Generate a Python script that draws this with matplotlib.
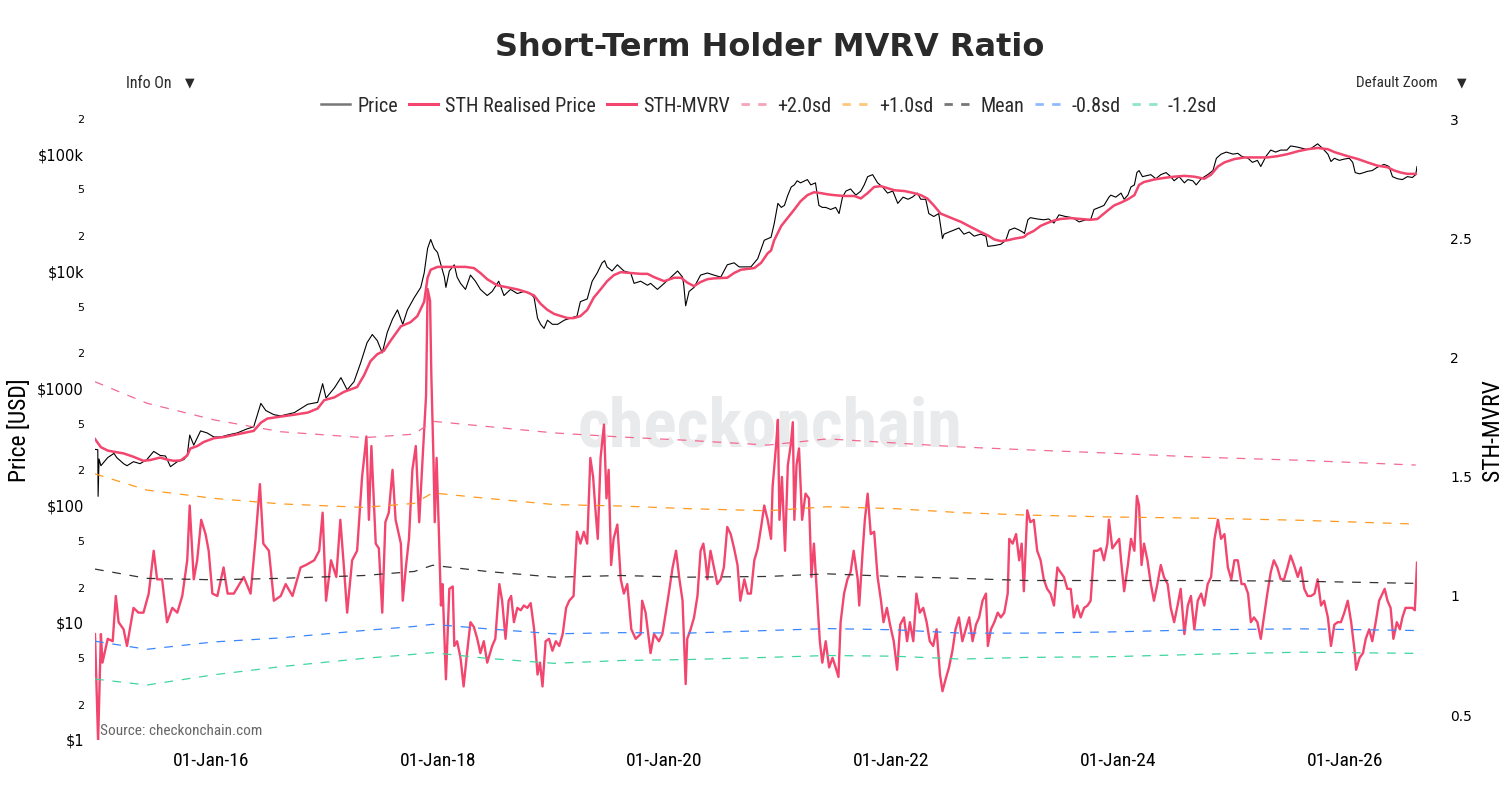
import matplotlib
matplotlib.use("Agg")
import matplotlib.pyplot as plt
import matplotlib.dates as mdates
from matplotlib.lines import Line2D
from matplotlib import font_manager
import pandas as pd

# ---------------------------------------------------------
# Data
# ---------------------------------------------------------
price_dates = [
    "2014-12-24", "2015-01-02", "2015-01-03", "2015-01-06", "2015-01-12", "2015-02-03", "2015-02-23",
    "2015-03-04", "2015-03-26", "2015-04-06", "2015-04-27", "2015-05-18", "2015-06-09", "2015-07-01",
    "2015-07-22", "2015-08-08", "2015-08-24", "2015-09-15", "2015-10-06", "2015-10-17", "2015-10-25",
    "2015-11-07", "2015-11-29", "2015-12-20", "2016-01-11", "2016-02-02", "2016-02-24", "2016-03-26",
    "2016-04-27", "2016-05-18", "2016-06-10", "2016-06-26", "2016-07-22", "2016-08-13", "2016-09-26",
    "2016-11-08", "2016-12-10", "2016-12-26", "2017-01-06", "2017-02-02", "2017-02-23", "2017-03-15",
    "2017-04-06", "2017-04-27", "2017-05-18", "2017-06-04", "2017-06-20", "2017-07-06", "2017-07-22",
    "2017-08-08", "2017-08-24", "2017-09-10", "2017-09-25", "2017-10-17", "2017-11-07", "2017-11-18",
    "2017-11-29", "2017-12-09", "2017-12-20", "2017-12-31", "2018-01-11", "2018-01-22", "2018-01-27",
    "2018-02-07", "2018-02-23", "2018-03-04", "2018-03-15", "2018-03-31", "2018-04-16", "2018-05-02",
    "2018-05-18", "2018-06-09", "2018-06-25", "2018-07-16", "2018-08-02", "2018-08-23", "2018-09-14",
    "2018-10-05", "2018-10-27", "2018-11-07", "2018-11-18", "2018-11-28", "2018-12-09", "2018-12-20",
    "2019-01-05", "2019-01-22", "2019-02-12", "2019-03-04", "2019-03-25", "2019-04-05", "2019-04-27",
    "2019-05-13", "2019-05-29", "2019-06-14", "2019-06-22", "2019-06-30", "2019-07-16", "2019-08-02",
    "2019-08-23", "2019-09-14", "2019-09-25", "2019-10-16", "2019-11-07", "2019-11-17", "2019-12-09",
    "2019-12-31", "2020-01-22", "2020-02-12", "2020-02-28", "2020-03-03", "2020-03-09", "2020-03-20",
    "2020-04-05", "2020-04-26", "2020-05-18", "2020-06-08", "2020-06-30", "2020-07-21", "2020-08-12",
    "2020-08-28", "2020-10-05", "2020-10-27", "2020-11-17", "2020-12-09", "2020-12-19", "2020-12-31",
    "2021-01-11", "2021-01-21", "2021-02-01", "2021-02-12", "2021-02-22", "2021-03-03", "2021-03-14",
    "2021-04-05", "2021-04-16", "2021-05-01", "2021-05-12", "2021-05-23", "2021-06-03", "2021-06-19",
    "2021-07-05", "2021-07-16", "2021-07-27", "2021-08-07", "2021-08-22", "2021-09-08", "2021-09-24",
    "2021-10-05", "2021-10-16", "2021-11-01", "2021-11-17", "2021-12-03", "2021-12-19", "2022-01-05",
    "2022-01-21", "2022-02-07", "2022-02-23", "2022-03-09", "2022-03-25", "2022-04-05", "2022-04-21",
    "2022-05-01", "2022-05-17", "2022-06-02", "2022-06-14", "2022-06-19", "2022-07-05", "2022-07-21",
    "2022-08-06", "2022-08-22", "2022-09-08", "2022-09-24", "2022-10-15", "2022-11-01", "2022-11-07",
    "2022-11-28", "2022-12-19", "2023-01-04", "2023-01-15", "2023-02-01", "2023-02-16", "2023-02-27",
    "2023-03-05", "2023-03-16", "2023-03-24", "2023-04-15", "2023-05-06", "2023-05-22", "2023-06-08",
    "2023-06-24", "2023-07-15", "2023-08-07", "2023-08-28", "2023-09-19", "2023-10-04", "2023-10-15",
    "2023-11-01", "2023-11-16", "2023-12-02", "2023-12-08", "2023-12-24", "2024-01-10", "2024-01-20",
    "2024-02-01", "2024-02-11", "2024-02-22", "2024-03-01", "2024-03-08", "2024-03-19", "2024-04-04",
    "2024-04-15", "2024-05-01", "2024-05-17", "2024-06-03", "2024-06-18", "2024-06-29", "2024-07-15",
    "2024-08-01", "2024-08-12", "2024-08-28", "2024-09-08", "2024-09-24", "2024-10-15", "2024-11-01",
    "2024-11-12", "2024-11-27", "2024-12-14", "2025-01-05", "2025-01-20", "2025-02-01", "2025-02-22",
    "2025-03-08", "2025-03-24", "2025-04-04", "2025-04-21", "2025-05-06", "2025-05-22", "2025-06-07",
    "2025-06-27", "2025-07-09", "2025-07-26", "2025-08-11", "2025-08-27", "2025-09-13", "2025-10-04",
    "2025-10-20", "2025-11-06", "2025-11-16", "2025-11-27", "2025-12-13", "2025-12-29", "2026-01-14",
    "2026-01-25", "2026-02-02", "2026-02-16", "2026-03-02", "2026-03-13", "2026-03-29", "2026-04-14",
    "2026-05-06", "2026-05-22", "2026-06-02", "2026-06-18", "2026-07-04", "2026-07-20", "2026-08-05",
    "2026-08-16", "2026-08-20",
]
price_values = [
    302, 300, 120, 250, 219, 257, 279,
    257, 228, 219, 237, 228, 247, 290,
    268, 265, 215, 237, 247, 268, 400,
    328, 434, 417, 385, 385, 400, 417,
    452, 470, 745, 648, 597, 583, 622,
    733, 760, 1097, 829, 1011, 1236, 973,
    1141, 1640, 2455, 2884, 2557, 2010, 3000,
    3900, 4677, 3524, 4677, 5955, 7280, 9660,
    15660, 18670, 15660, 14450, 11350, 8910, 7280,
    10050, 11350, 8910, 7880, 7000, 9270, 8220,
    7000, 6200, 6720, 8220, 6200, 7000, 6450,
    6720, 6450, 5955, 3980, 3524, 3250, 3820,
    3524, 3524, 3820, 3980, 4140, 5500, 5800,
    8220, 9660, 11800, 12300, 10890, 10050, 11350,
    10050, 9660, 7880, 8220, 7590, 7880, 7000,
    7880, 8910, 10050, 8910, 7590, 5070, 6720,
    7280, 9270, 9660, 9270, 8910, 11350, 11800,
    10890, 10890, 12790, 18370, 19500, 25370, 37930,
    35050, 36450, 44600, 52390, 54550, 59130, 56770,
    60550, 54550, 56770, 36450, 35050, 35050, 33650,
    35050, 31050, 42850, 48300, 50310, 44600, 48300,
    54550, 64120, 66700, 56770, 52390, 46430, 48300,
    37930, 42850, 41130, 42850, 46430, 41130, 41130,
    31050, 29310, 31050, 19000, 20720, 21600, 22440,
    23380, 20720, 21600, 19910, 20720, 19910, 16300,
    16560, 16980, 18370, 22440, 23380, 22440, 21600,
    21000, 27480, 28640, 27930, 27480, 27930, 25780,
    30280, 29310, 28640, 26360, 27480, 27480, 33650,
    35050, 36450, 42850, 44600, 42850, 46430, 41130,
    44600, 52390, 54550, 69470, 72300, 64120, 65550,
    66700, 61540, 66700, 69470, 64120, 59130, 64120,
    56770, 60550, 59130, 54550, 61540, 66700, 72300,
    92000, 99800, 103900, 99800, 101400, 95800, 92000,
    84900, 88300, 78300, 95800, 108100, 103900, 108100,
    108100, 117200, 115300, 112700, 109900, 111700, 122200,
    111700, 99800, 86300, 92000, 88300, 90600, 92000,
    84900, 69470, 67750, 69470, 71100, 72300, 77100,
    81600, 78300, 64120, 61540, 60550, 64120, 63100,
    66700, 78300,
]

realised_dates = [
    "2014-12-24", "2015-01-12", "2015-02-03", "2015-02-23", "2015-03-26", "2015-04-27", "2015-05-29",
    "2015-06-20", "2015-07-22", "2015-08-13", "2015-09-04", "2015-09-26", "2015-10-17", "2015-10-27",
    "2015-11-18", "2015-12-09", "2016-01-11", "2016-02-13", "2016-03-15", "2016-04-16", "2016-05-18",
    "2016-06-10", "2016-07-01", "2016-08-13", "2016-09-26", "2016-11-08", "2016-12-10", "2016-12-31",
    "2017-02-02", "2017-03-04", "2017-04-16", "2017-05-08", "2017-05-29", "2017-06-20", "2017-07-11",
    "2017-08-02", "2017-09-04", "2017-10-05", "2017-10-27", "2017-11-18", "2017-11-29", "2017-12-09",
    "2017-12-31", "2018-01-22", "2018-02-23", "2018-03-31", "2018-04-27", "2018-05-18", "2018-06-09",
    "2018-07-11", "2018-08-13", "2018-09-14", "2018-10-16", "2018-11-07", "2018-11-28", "2018-12-20",
    "2019-01-11", "2019-02-02", "2019-02-23", "2019-03-14", "2019-04-05", "2019-04-27", "2019-05-18",
    "2019-06-09", "2019-06-30", "2019-07-22", "2019-08-13", "2019-09-14", "2019-10-16", "2019-11-07",
    "2019-11-28", "2019-12-31", "2020-02-01", "2020-02-23", "2020-03-14", "2020-04-05", "2020-04-26",
    "2020-05-18", "2020-06-08", "2020-07-21", "2020-08-12", "2020-09-03", "2020-10-16", "2020-11-07",
    "2020-11-28", "2020-12-09", "2020-12-19", "2021-01-11", "2021-02-01", "2021-02-22", "2021-03-14",
    "2021-04-05", "2021-04-26", "2021-05-18", "2021-06-09", "2021-06-30", "2021-08-01", "2021-09-03",
    "2021-09-24", "2021-10-16", "2021-11-06", "2021-11-28", "2021-12-19", "2022-01-10", "2022-02-12",
    "2022-03-14", "2022-04-05", "2022-04-26", "2022-05-17", "2022-06-08", "2022-07-10", "2022-08-12",
    "2022-09-14", "2022-10-15", "2022-11-07", "2022-11-28", "2022-12-19", "2023-01-10", "2023-02-01",
    "2023-03-03", "2023-03-14", "2023-04-04", "2023-04-26", "2023-05-17", "2023-06-08", "2023-06-29",
    "2023-08-01", "2023-09-02", "2023-10-04", "2023-10-26", "2023-11-16", "2023-12-02", "2023-12-19",
    "2024-01-10", "2024-02-01", "2024-02-22", "2024-03-08", "2024-03-24", "2024-04-25", "2024-05-27",
    "2024-06-29", "2024-08-01", "2024-09-02", "2024-10-04", "2024-10-26", "2024-11-17", "2024-12-08",
    "2025-01-09", "2025-02-11", "2025-03-24", "2025-04-25", "2025-05-27", "2025-06-29", "2025-08-01",
    "2025-09-02", "2025-10-04", "2025-11-06", "2025-11-27", "2026-01-09", "2026-02-11", "2026-03-13",
    "2026-04-14", "2026-05-17", "2026-06-08", "2026-06-29", "2026-07-20", "2026-08-20",
]
realised_values = [
    370, 315, 295, 288, 279, 261, 241,
    245, 257, 247, 241, 243, 268, 307,
    322, 349, 376, 385, 400, 417, 434,
    510, 553, 575, 597, 622, 674, 794,
    839, 933, 1028, 1288, 1707, 1959, 2089,
    2557, 3388, 3673, 4140, 5500, 8800, 10300,
    10890, 10890, 10890, 10890, 10640, 9660, 8550,
    7590, 7280, 7000, 6600, 6200, 5270, 4677,
    4316, 4140, 3980, 3980, 4140, 4677, 5955,
    7000, 8220, 9270, 9820, 9660, 9500, 9500,
    8910, 8220, 8800, 8800, 8000, 7460, 8090,
    8550, 8690, 8800, 9660, 10300, 10640, 11800,
    14220, 15040, 18370, 24380, 28640, 33650, 39550,
    44600, 47200, 46430, 45300, 44600, 43850, 43850,
    41780, 46430, 52390, 53200, 51150, 49100, 48300,
    46430, 44600, 41780, 36450, 31050, 28640, 26420,
    23780, 21600, 20230, 18660, 18070, 18370, 18970,
    19580, 20720, 22080, 24380, 25780, 27060, 27930,
    28380, 27930, 27480, 27930, 31050, 33650, 36450,
    38540, 41130, 44600, 54550, 57750, 60550, 62520,
    64120, 65100, 64120, 61540, 66700, 78300, 84900,
    90600, 93560, 93560, 93560, 95800, 99800, 105600,
    109900, 112700, 109900, 103900, 95800, 90600, 84900,
    79650, 77100, 72300, 69470, 67750, 67750,
]

mvrv_dates = [
    "2014-12-24", "2015-01-03", "2015-01-12", "2015-01-17", "2015-02-03", "2015-02-19", "2015-03-01",
    "2015-03-10", "2015-03-26", "2015-04-06", "2015-04-27", "2015-05-13", "2015-05-29", "2015-06-15",
    "2015-07-01", "2015-07-12", "2015-07-28", "2015-08-13", "2015-08-30", "2015-09-15", "2015-10-01",
    "2015-10-17", "2015-10-25", "2015-11-07", "2015-11-18", "2015-12-01", "2015-12-15", "2015-12-25",
    "2016-01-06", "2016-01-22", "2016-02-11", "2016-02-24", "2016-03-15", "2016-04-16", "2016-05-08",
    "2016-05-24", "2016-06-07", "2016-06-18", "2016-07-06", "2016-07-22", "2016-08-13", "2016-08-29",
    "2016-09-20", "2016-10-16", "2016-11-02", "2016-11-29", "2016-12-15", "2016-12-26", "2017-01-06",
    "2017-01-22", "2017-02-08", "2017-02-21", "2017-03-04", "2017-03-15", "2017-03-31", "2017-04-16",
    "2017-05-02", "2017-05-16", "2017-05-24", "2017-06-01", "2017-06-15", "2017-06-25", "2017-07-06",
    "2017-07-16", "2017-07-27", "2017-08-08", "2017-08-18", "2017-09-04", "2017-09-10", "2017-09-20",
    "2017-09-30", "2017-10-11", "2017-10-22", "2017-11-02", "2017-11-13", "2017-11-24", "2017-11-29",
    "2017-12-07", "2017-12-11", "2017-12-18", "2017-12-22", "2017-12-28", "2018-01-05", "2018-01-11",
    "2018-01-16", "2018-01-27", "2018-02-07", "2018-02-18", "2018-02-23", "2018-03-04", "2018-03-15",
    "2018-03-25", "2018-04-05", "2018-04-16", "2018-04-27", "2018-05-08", "2018-05-18", "2018-05-29",
    "2018-06-09", "2018-06-25", "2018-07-05", "2018-07-18", "2018-07-27", "2018-08-07", "2018-08-17",
    "2018-08-25", "2018-09-03", "2018-09-14", "2018-09-25", "2018-10-05", "2018-10-16", "2018-10-27",
    "2018-11-07", "2018-11-18", "2018-11-26", "2018-12-04", "2018-12-14", "2018-12-25", "2019-01-05",
    "2019-01-16", "2019-01-27", "2019-02-07", "2019-02-18", "2019-02-28", "2019-03-14", "2019-03-25",
    "2019-04-05", "2019-04-16", "2019-04-27", "2019-05-07", "2019-05-16", "2019-05-23", "2019-05-31",
    "2019-06-09", "2019-06-20", "2019-06-28", "2019-07-05", "2019-07-13", "2019-07-21", "2019-08-02",
    "2019-08-13", "2019-08-23", "2019-09-03", "2019-09-16", "2019-09-30", "2019-10-16", "2019-10-21",
    "2019-11-01", "2019-11-17", "2019-11-28", "2019-12-14", "2019-12-25", "2020-01-11", "2020-01-27",
    "2020-02-07", "2020-02-18", "2020-02-28", "2020-03-09", "2020-03-14", "2020-03-25", "2020-04-05",
    "2020-04-16", "2020-04-26", "2020-05-05", "2020-05-12", "2020-05-18", "2020-05-28", "2020-06-08",
    "2020-06-19", "2020-06-30", "2020-07-10", "2020-07-21", "2020-08-01", "2020-08-12", "2020-08-23",
    "2020-09-01", "2020-09-14", "2020-09-25", "2020-10-05", "2020-10-16", "2020-10-27", "2020-11-07",
    "2020-11-17", "2020-11-28", "2020-12-09", "2020-12-14", "2020-12-25", "2020-12-31", "2021-01-05",
    "2021-01-13", "2021-01-23", "2021-02-01", "2021-02-10", "2021-02-17", "2021-02-22", "2021-03-01",
    "2021-03-09", "2021-03-19", "2021-03-30", "2021-04-10", "2021-04-18", "2021-04-26", "2021-05-07",
    "2021-05-15", "2021-05-23", "2021-06-03", "2021-06-14", "2021-06-25", "2021-07-05", "2021-07-14",
    "2021-07-21", "2021-08-01", "2021-08-12", "2021-08-22", "2021-09-01", "2021-09-14", "2021-09-19",
    "2021-09-30", "2021-10-07", "2021-10-16", "2021-10-26", "2021-11-06", "2021-11-17", "2021-11-28",
    "2021-12-06", "2021-12-17", "2021-12-27", "2022-01-08", "2022-01-19", "2022-01-29", "2022-02-10",
    "2022-02-20", "2022-03-01", "2022-03-12", "2022-03-22", "2022-04-02", "2022-04-13", "2022-04-24",
    "2022-05-04", "2022-05-15", "2022-05-26", "2022-06-06", "2022-06-14", "2022-06-24", "2022-07-05",
    "2022-07-16", "2022-07-26", "2022-08-06", "2022-08-17", "2022-08-28", "2022-09-08", "2022-09-19",
    "2022-09-30", "2022-10-10", "2022-10-21", "2022-11-01", "2022-11-07", "2022-11-17", "2022-11-28",
    "2022-12-09", "2022-12-19", "2022-12-30", "2023-01-10", "2023-01-15", "2023-01-26", "2023-02-06",
    "2023-02-16", "2023-02-24", "2023-03-03", "2023-03-14", "2023-03-24", "2023-04-04", "2023-04-15",
    "2023-04-26", "2023-05-06", "2023-05-17", "2023-05-28", "2023-06-08", "2023-06-19", "2023-06-29",
    "2023-07-10", "2023-07-21", "2023-08-01", "2023-08-11", "2023-08-22", "2023-09-02", "2023-09-13",
    "2023-09-24", "2023-10-04", "2023-10-15", "2023-10-26", "2023-11-06", "2023-11-16", "2023-11-27",
    "2023-12-02", "2023-12-13", "2023-12-24", "2024-01-04", "2024-01-10", "2024-01-20", "2024-02-01",
    "2024-02-11", "2024-02-22", "2024-03-01", "2024-03-08", "2024-03-16", "2024-03-24", "2024-04-04",
    "2024-04-15", "2024-04-25", "2024-05-06", "2024-05-17", "2024-05-27", "2024-06-08", "2024-06-18",
    "2024-06-29", "2024-07-10", "2024-07-20", "2024-08-01", "2024-08-12", "2024-08-22", "2024-09-02",
    "2024-09-13", "2024-09-24", "2024-10-04", "2024-10-15", "2024-10-26", "2024-11-06", "2024-11-17",
    "2024-11-27", "2024-12-08", "2024-12-19", "2024-12-30", "2025-01-09", "2025-01-20", "2025-02-01",
    "2025-02-11", "2025-02-22", "2025-03-03", "2025-03-13", "2025-03-24", "2025-04-04", "2025-04-14",
    "2025-04-25", "2025-05-06", "2025-05-16", "2025-05-27", "2025-06-07", "2025-06-18", "2025-06-29",
    "2025-07-09", "2025-07-20", "2025-08-01", "2025-08-11", "2025-08-22", "2025-09-02", "2025-09-13",
    "2025-09-24", "2025-10-04", "2025-10-15", "2025-10-25", "2025-11-06", "2025-11-16", "2025-11-27",
    "2025-12-08", "2025-12-18", "2025-12-29", "2026-01-09", "2026-01-20", "2026-01-31", "2026-02-05",
    "2026-02-16", "2026-02-27", "2026-03-08", "2026-03-19", "2026-03-29", "2026-04-09", "2026-04-20",
    "2026-05-01", "2026-05-08", "2026-05-17", "2026-05-27", "2026-06-05", "2026-06-16", "2026-06-26",
    "2026-07-04", "2026-07-14", "2026-07-25", "2026-08-05", "2026-08-13", "2026-08-20",
]
mvrv_values = [
    0.84, 0.39, 0.84, 0.72, 0.82, 0.81, 1.00,
    0.89, 0.86, 0.79, 0.95, 0.93, 0.93, 1.01,
    1.19, 1.07, 1.07, 0.89, 0.95, 0.93, 1.00,
    1.15, 1.38, 1.07, 1.15, 1.32, 1.26, 1.19,
    1.01, 1.00, 1.12, 1.01, 1.01, 1.08, 1.01,
    1.24, 1.47, 1.22, 1.19, 0.98, 1.00, 1.05,
    1.00, 1.12, 1.13, 1.15, 1.19, 1.35, 0.98,
    1.15, 1.08, 1.32, 1.13, 0.93, 1.15, 1.19,
    1.50, 1.67, 1.32, 1.63, 1.22, 1.20, 0.93,
    1.31, 1.35, 1.53, 1.32, 1.22, 0.98, 1.12,
    1.24, 1.53, 1.63, 1.31, 1.58, 1.84, 2.29,
    2.24, 1.93, 1.57, 1.31, 1.58, 1.24, 0.96,
    1.05, 0.65, 1.03, 1.04, 0.79, 0.81, 0.74,
    0.62, 0.76, 0.89, 0.87, 0.82, 0.76, 0.81,
    0.72, 0.79, 0.82, 1.05, 0.98, 0.82, 0.98,
    1.00, 0.89, 0.95, 0.94, 0.96, 0.95, 0.97,
    0.86, 0.67, 0.72, 0.62, 0.81, 0.82, 0.77,
    0.81, 0.79, 0.84, 0.95, 0.98, 1.00, 1.27,
    1.22, 1.27, 1.22, 1.58, 1.50, 1.37, 1.24,
    1.58, 1.72, 1.41, 1.53, 1.13, 1.24, 1.30,
    1.07, 1.01, 1.05, 0.86, 0.82, 0.84, 0.98,
    0.93, 0.76, 0.84, 0.81, 0.84, 0.98, 1.12,
    1.19, 1.07, 0.98, 0.63, 0.82, 0.86, 0.91,
    1.00, 1.19, 1.22, 1.15, 1.07, 1.19, 1.12,
    1.05, 1.07, 1.12, 1.29, 1.26, 1.20, 1.13,
    0.98, 1.07, 1.01, 1.01, 1.15, 1.20, 1.29,
    1.38, 1.32, 1.24, 1.46, 1.63, 1.74, 1.32,
    1.50, 1.19, 1.55, 1.63, 1.73, 1.32, 1.55,
    1.62, 1.32, 1.43, 1.41, 1.08, 1.22, 0.98,
    0.81, 0.72, 0.81, 0.70, 0.74, 0.70, 0.66,
    0.89, 1.01, 1.07, 1.10, 1.19, 1.07, 0.96,
    1.19, 1.32, 1.43, 1.26, 1.27, 1.08, 0.98,
    0.89, 0.95, 0.88, 0.81, 0.69, 0.88, 0.91,
    0.81, 0.89, 0.81, 1.01, 0.93, 0.95, 0.89,
    0.81, 0.79, 0.86, 0.67, 0.60, 0.65, 0.70,
    0.77, 0.86, 0.91, 0.81, 0.86, 0.91, 0.81,
    0.88, 0.91, 0.98, 1.01, 0.79, 0.86, 0.89,
    0.93, 0.91, 0.93, 1.01, 1.24, 1.22, 1.26,
    1.15, 1.22, 1.02, 1.36, 1.31, 1.32, 1.19,
    1.15, 1.07, 1.03, 1.01, 0.96, 1.12, 1.10,
    1.08, 1.03, 1.03, 0.91, 0.96, 0.91, 0.95,
    0.96, 0.98, 1.19, 1.19, 1.20, 1.15, 1.22,
    1.32, 1.20, 1.22, 1.24, 1.15, 1.02, 1.13,
    1.24, 1.19, 1.42, 1.38, 1.13, 1.22, 1.15,
    1.05, 0.98, 1.05, 1.13, 1.08, 1.05, 0.95,
    0.89, 0.96, 1.03, 0.84, 0.96, 1.00, 0.86,
    0.98, 1.01, 0.96, 1.05, 1.08, 1.24, 1.32,
    1.24, 1.26, 1.12, 1.07, 1.15, 1.15, 1.05,
    1.05, 1.01, 0.89, 0.91, 0.89, 0.82, 0.91,
    1.01, 1.10, 1.15, 1.12, 1.07, 1.07, 1.12,
    1.17, 1.13, 1.08, 1.12, 1.03, 1.00, 1.00,
    1.01, 1.07, 0.96, 0.98, 0.91, 0.79, 0.88,
    0.89, 0.89, 0.93, 0.98, 0.89, 0.77, 0.69,
    0.74, 0.76, 0.82, 0.86, 0.81, 0.89, 0.98,
    1.01, 1.03, 0.98, 0.95, 0.82, 0.89, 0.86,
    0.91, 0.95, 0.95, 0.95, 0.94, 1.14,
]

# standard-deviation bands of STH-MVRV (right axis)
band_dates = [
    "2014-12-24", "2015-06-09", "2016-01-11", "2016-08-13", "2017-05-08", "2017-10-17", "2017-12-15",
    "2018-06-09", "2019-01-11", "2019-08-13", "2020-03-14", "2020-11-28", "2021-06-09", "2022-01-10",
    "2022-08-12", "2023-03-14", "2023-12-08", "2024-09-24", "2025-08-11", "2026-08-16",
]
band_plus2 = [1.90, 1.81, 1.74, 1.69, 1.665, 1.68, 1.734, 1.712, 1.685, 1.668,
              1.654, 1.634, 1.66, 1.643, 1.626, 1.614, 1.60, 1.583, 1.57, 1.55]
band_plus1 = [1.513, 1.445, 1.41, 1.387, 1.372, 1.389, 1.433, 1.41, 1.384, 1.378,
              1.367, 1.358, 1.375, 1.367, 1.35, 1.34, 1.332, 1.327, 1.318, 1.302]
band_mean = [1.113, 1.074, 1.068, 1.074, 1.086, 1.103, 1.129, 1.103, 1.079, 1.086,
             1.079, 1.082, 1.093, 1.082, 1.074, 1.065, 1.065, 1.065, 1.062, 1.053]
band_minus08 = [0.81, 0.776, 0.807, 0.824, 0.855, 0.872, 0.881, 0.862, 0.841, 0.846,
                0.844, 0.855, 0.863, 0.858, 0.844, 0.844, 0.849, 0.858, 0.862, 0.855]
band_minus12 = [0.651, 0.626, 0.669, 0.703, 0.738, 0.755, 0.762, 0.738, 0.717, 0.729,
                0.733, 0.742, 0.75, 0.747, 0.735, 0.742, 0.745, 0.755, 0.764, 0.759]

left_major = [1, 10, 100, 1000, 10000, 100000]
left_major_labels = ["$1", "$10", "$100", "$1000", "$10k", "$100k"]
right_ticks = [0.5, 1, 1.5, 2, 2.5, 3]
right_labels = ["0.5", "1", "1.5", "2", "2.5", "3"]


def pick_font(names, fallback="DejaVu Sans"):
    for n in names:
        try:
            font_manager.findfont(n, fallback_to_default=False)
            return n
        except Exception:
            pass
    return fallback


NARROW = pick_font(["Liberation Sans Narrow", "Roboto Condensed", "Liberation Sans"])
plt.rcParams["font.family"] = ["DejaVu Sans"]

MVRV_RED = "#f2466e"
TEXT = "#2a2a2a"

fig = plt.figure(figsize=(15.12, 8.07), dpi=100)
ax1 = fig.add_axes([95 / 1512, 1 - 740 / 807, 1322 / 1512, 622 / 807])
ax2 = ax1.twinx()
ax1.set_facecolor("none")
ax2.set_facecolor("none")

pdates = pd.to_datetime(price_dates)
rdates = pd.to_datetime(realised_dates)
mdts = pd.to_datetime(mvrv_dates)
bdates = pd.to_datetime(band_dates)

# left axis: price and realised price (log)
ax1.plot(pdates, price_values, color="black", lw=0.8, zorder=3)
ax1.plot(rdates, realised_values, color=MVRV_RED, lw=1.8, zorder=4)
ax1.set_yscale("log")
ax1.set_ylim(1, 2.03e5)

# right axis: STH-MVRV and its bands
ax2.plot(mdts, mvrv_values, color=MVRV_RED, lw=1.7, zorder=3)
band_styles = [
    (band_plus2, "#f36a90"),
    (band_plus1, "#ff9a1f"),
    (band_mean, "#333333"),
    (band_minus08, "#3a86ff"),
    (band_minus12, "#3fd69c"),
]
for vals, col in band_styles:
    ax2.plot(bdates, vals, color=col, lw=0.9, dashes=(7, 7), zorder=4)
ax2.set_ylim(0.395, 3.008)

xmin = min(pdates.min(), mdts.min())
xmax = max(pdates.max(), mdts.max())
ax1.set_xlim(xmin, xmax)

# ticks
ax1.set_yticks(left_major)
ax1.set_yticklabels(left_major_labels, fontsize=10.5, color="black")
minor_vals, minor_labels = [], []
for base in left_major:
    for m in (2, 5):
        if base * m <= 2.03e5:
            minor_vals.append(base * m)
            minor_labels.append(str(m))
ax1.set_yticks(minor_vals, minor=True)
ax1.set_yticklabels(minor_labels, minor=True, fontsize=8, color="black")
ax1.tick_params(axis="y", which="both", length=0, pad=8)

ax2.set_yticks(right_ticks)
ax2.set_yticklabels(right_labels, fontsize=10, color="black")
ax2.tick_params(axis="y", length=0, pad=24)

ax1.xaxis.set_major_locator(mdates.YearLocator(2))
ax1.xaxis.set_major_formatter(mdates.DateFormatter("%d-%b-%y"))
ax1.tick_params(axis="x", length=0, pad=9, labelsize=14)
for lab in ax1.get_xticklabels():
    lab.set_fontfamily(NARROW)

for ax in (ax1, ax2):
    for sp in ax.spines.values():
        sp.set_visible(False)

# axis titles placed where the reference has them
fig.text(20 / 1512, 1 - 430 / 807, "Price [USD]", rotation=90, ha="center", va="center",
         fontsize=17, family=NARROW, color="black")
fig.text(1493 / 1512, 1 - 430 / 807, "STH-MVRV", rotation=90, ha="center", va="center",
         fontsize=17, family=NARROW, color="black")

# watermark behind everything
fig.text(770 / 1512, 1 - 428 / 807, "checkonchain", ha="center", va="center",
         fontsize=50, fontweight="bold", family=NARROW, color="#e9eaec", zorder=-5)

# title and header texts
fig.text(770 / 1512, 1 - 48 / 807, "Short-Term Holder MVRV Ratio", ha="center", va="center",
         fontsize=23, fontweight="bold", color=TEXT)
fig.text(126 / 1512, 1 - 83 / 807, "Info On", ha="left", va="center",
         fontsize=11.5, family=NARROW, color=TEXT)
fig.text(190 / 1512, 1 - 83 / 807, "\u25bc", ha="center", va="center", fontsize=9, color=TEXT)
fig.text(1356 / 1512, 1 - 83 / 807, "Default Zoom", ha="left", va="center",
         fontsize=11, family=NARROW, color=TEXT)
fig.text(1462 / 1512, 1 - 83 / 807, "\u25bc", ha="center", va="center", fontsize=9, color=TEXT)
fig.text(100 / 1512, 1 - 731 / 807, "Source: checkonchain.com", ha="left", va="center",
         fontsize=11, family=NARROW, color="#666666")

handles = [
    Line2D([], [], color="#777777", lw=1.8),
    Line2D([], [], color=MVRV_RED, lw=2.2),
    Line2D([], [], color=MVRV_RED, lw=2.2),
    Line2D([], [], color="#f7a3b9", lw=2, dashes=(3, 3)),
    Line2D([], [], color="#ffc77a", lw=2, dashes=(3, 3)),
    Line2D([], [], color="#777777", lw=2, dashes=(3, 3)),
    Line2D([], [], color="#8fbaff", lw=2, dashes=(3, 3)),
    Line2D([], [], color="#8fe6c4", lw=2, dashes=(3, 3)),
]
labels = ["Price", "STH Realised Price", "STH-MVRV", "+2.0sd", "+1.0sd", "Mean", "-0.8sd", "-1.2sd"]
leg = fig.legend(handles, labels, loc="center", bbox_to_anchor=(769 / 1512, 1 - 106 / 807),
                 ncol=8, frameon=False, handlelength=1.45, handletextpad=0.35, columnspacing=0.55,
                 prop={"family": NARROW, "size": 14.5})
for t in leg.get_texts():
    t.set_color(TEXT)

fig.savefig("out.png", dpi=100)
